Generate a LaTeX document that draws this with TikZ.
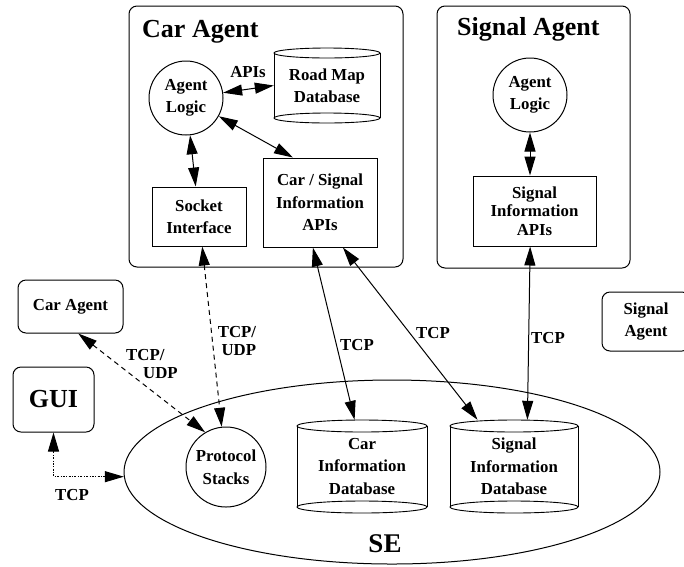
\documentclass[tikz,border=0pt]{standalone}
\usepackage{fontspec}
\setmainfont{Liberation Serif}
\usetikzlibrary{arrows.meta,shapes.geometric,calc}
\begin{document}
\begin{tikzpicture}[x=1pt,y=-1pt,
 >={Triangle[length=19pt,width=11pt]},
 every node/.style={font=\bfseries\fontsize{16.8}{22.5}\selectfont, inner sep=0pt},
 box/.style={draw, line width=1pt, align=center},
 rbox/.style={box, rounded corners=8pt},
 circ/.style={draw, circle, line width=1pt, align=center},
 big/.style={font=\bfseries\fontsize{26}{30}\selectfont},
 tight/.style={font=\bfseries\fontsize{16.8}{18.5}\selectfont},
 dbl/.style={line width=1pt, <->},
 dsh/.style={dbl, dash pattern=on 5pt off 4pt},
 dshdot/.style={dbl, dash pattern=on 2pt off 1.5pt on 0.8pt off 1.5pt},
 dbline/.style={line width=0.9pt}
]
\fill[white] (0,0) rectangle (684,566);
\useasboundingbox (0,0) rectangle (684,566);
\clip (0,0) rectangle (684,566);

% agent containers
\node[rbox, minimum width=274pt, minimum height=261pt] (carA) at (266,136.5) {};
\node[big, anchor=base west] (carAt) at (142,37) {Car Agent};
\node[rbox, minimum width=193pt, minimum height=262pt] (sigA) at (533.5,137) {};
\node[big, anchor=base west] (sigAt) at (457,35) {Signal Agent};

% car agent internals
\node[circ, minimum size=74pt] (carlogic) at (186,98) {Agent\\Logic};
\node[align=center, minimum width=106pt, minimum height=75pt] (rmdb) at (327,85.5) {Road Map\\Database};
\draw[dbline] (327,53) ellipse [x radius=53pt, y radius=5pt];
\draw[dbline] (327,118) ellipse [x radius=53pt, y radius=5pt];
\draw[dbline] (274,53) -- (274,118) (380,53) -- (380,118);
\node[box, minimum width=114pt, minimum height=89pt] (csapi) at (320,202.5) {Car / Signal\\Information\\APIs};
\node[box, minimum width=94pt, minimum height=59pt] (sock) at (199,216.5) {Socket\\Interface};

% signal agent internals
\node[circ, minimum size=74pt] (siglogic) at (530,95) {Agent\\Logic};
\node[box, tight, minimum width=123pt, minimum height=70pt] (sigapi) at (534.5,211) {Signal\\Information\\APIs};

% outside boxes
\node[rbox, minimum width=105pt, minimum height=53pt] (carS) at (70.5,306.5) {Car Agent};
\node[rbox, big, minimum width=81pt, minimum height=65pt] (gui) at (53.5,399.5) {GUI};
\node[rbox, minimum width=88pt, minimum height=59pt] (sigS) at (646,321.5) {Signal\\Agent};

% SE
\node[draw, ellipse, line width=1pt, minimum width=536pt, minimum height=184pt] (se) at (392,472) {};
\node[font=\bfseries\fontsize{27}{30}\selectfont] (setxt) at (385,544) {SE};
\node[circ, minimum size=80pt] (proto) at (226,467) {Protocol\\Stacks};

\node[align=center, minimum width=130pt, minimum height=93pt] (cardb) at (362,466.5) {Car\\Information\\Database};
\draw[dbline] (362,426) ellipse [x radius=65pt, y radius=6pt];
\draw[dbline] (362,507) ellipse [x radius=65pt, y radius=6pt];
\draw[dbline] (297,426) -- (297,507) (427,426) -- (427,507);

\node[align=center, minimum width=128pt, minimum height=93pt] (sigdb) at (514,466.5) {Signal\\Information\\Database};
\draw[dbline] (514,426) ellipse [x radius=64pt, y radius=6pt];
\draw[dbline] (514,507) ellipse [x radius=64pt, y radius=6pt];
\draw[dbline] (450,426) -- (450,507) (578,426) -- (578,507);

% connectors
\draw[dbl] (carlogic) -- (rmdb.west);
\draw[dbl] (carlogic) -- (csapi.121);
\draw[dbl] (carlogic) -- (sock);
\draw[dbl] (siglogic) -- (siglogic |- sigapi.north);
\draw[dsh] (sock) -- (proto);
\draw[dsh] (carS.-74) -- (proto.121);
\draw[dshdot] (gui.south) |- (se.181.3);
\draw[dbl] (csapi.-99) -- (cardb.99);
\draw[dbl] (csapi.-63.7) -- (sigdb.128.5);
\draw[dbl] (sigapi.-97) -- (sigdb.74);

% labels
\node (l1) at (248,72) {APIs};
\node[align=right, font=\bfseries\fontsize{16.8}{18}\selectfont] (l2) at (237,341) {TCP/\\UDP};
\node[align=left, font=\bfseries\fontsize{16.8}{18}\selectfont] (l3) at (152,364) {TCP/\\\hspace*{17pt}UDP};
\node (l4) at (72,495) {TCP};
\node (l5) at (357,345) {TCP};
\node (l6) at (433,333) {TCP};
\node (l7) at (548,338) {TCP};
\end{tikzpicture}
\end{document}
